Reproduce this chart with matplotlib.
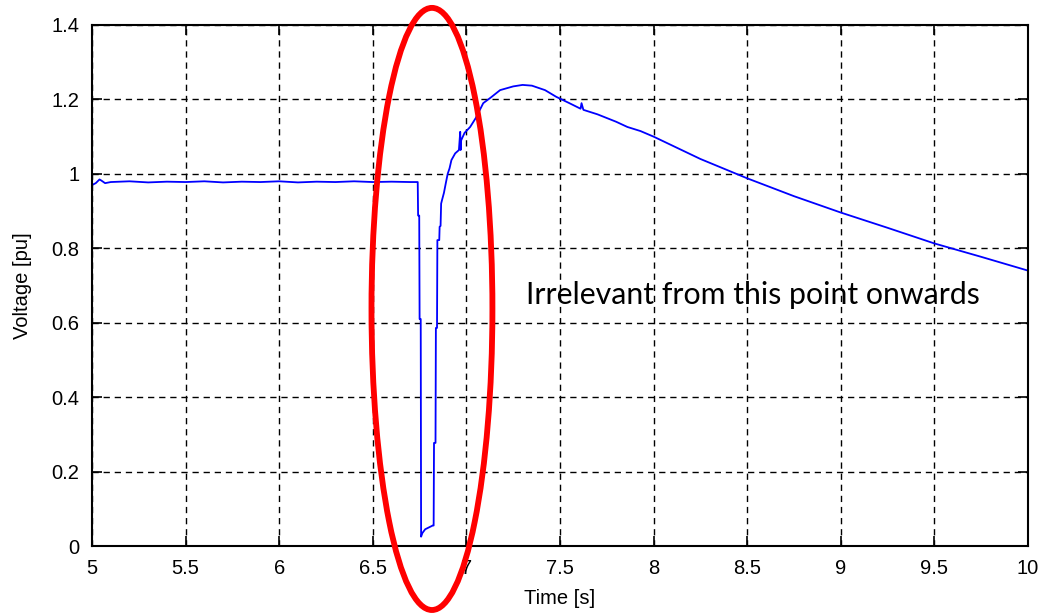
import matplotlib
matplotlib.use("Agg")
import matplotlib.pyplot as plt
from matplotlib.patches import Ellipse

# ---- data ----
time_s = [5.00, 5.02, 5.04, 5.05, 5.07, 5.10, 5.20, 5.30, 5.40, 5.50, 5.60, 5.70,
          5.80, 5.90, 6.00, 6.10, 6.20, 6.30, 6.40, 6.50, 6.60, 6.70, 6.740,
          6.742, 6.748, 6.750, 6.756, 6.758, 6.765, 6.780, 6.800, 6.820, 6.825,
          6.827, 6.835, 6.837, 6.843, 6.845, 6.855, 6.857, 6.862, 6.865, 6.870,
          6.880, 6.890, 6.900, 6.910, 6.920, 6.940, 6.960, 6.967, 6.969, 6.972,
          6.990, 7.020, 7.050, 7.090, 7.130, 7.180, 7.250, 7.300, 7.350, 7.420,
          7.480, 7.550, 7.610, 7.615, 7.625, 7.700, 7.800, 7.860, 7.930, 8.000,
          8.250, 8.500, 8.750, 9.000, 9.250, 9.500, 9.750, 10.00]
voltage_pu = [0.970, 0.975, 0.985, 0.982, 0.975, 0.978, 0.980, 0.977, 0.979, 0.978,
              0.980, 0.977, 0.979, 0.978, 0.980, 0.977, 0.979, 0.978, 0.980, 0.978,
              0.979, 0.978, 0.978,
              0.888, 0.888, 0.610, 0.610, 0.025, 0.035, 0.045, 0.050, 0.055, 0.055,
              0.277, 0.277, 0.586, 0.586, 0.822, 0.822, 0.858, 0.860, 0.920, 0.930,
              0.949, 0.975, 1.000, 1.015, 1.037, 1.055, 1.064, 1.113, 1.064, 1.090,
              1.110, 1.126, 1.150, 1.190, 1.205, 1.225, 1.235, 1.239, 1.237, 1.225,
              1.207, 1.190, 1.175, 1.190, 1.172, 1.160, 1.140, 1.126, 1.115, 1.100,
              1.040, 0.988, 0.940, 0.896, 0.855, 0.813, 0.777, 0.740]

x_ticks = [5, 5.5, 6, 6.5, 7, 7.5, 8, 8.5, 9, 9.5, 10]
x_tick_labels = ["5", "5.5", "6", "6.5", "7", "7.5", "8", "8.5", "9", "9.5", "10"]
y_ticks = [0, 0.2, 0.4, 0.6, 0.8, 1.0, 1.2, 1.4]
y_tick_labels = ["0", "0.2", "0.4", "0.6", "0.8", "1", "1.2", "1.4"]

annotation = "Irrelevant from this point onwards"

# ---- figure ----
plt.rcParams['font.family'] = ['Liberation Sans Narrow', 'Liberation Sans', 'DejaVu Sans']
fig = plt.figure(figsize=(10.41, 6.14), dpi=100)
ax = fig.add_axes([92 / 1041, 68 / 614, 936 / 1041, 521 / 614])

ax.plot(time_s, voltage_pu, color="#0000ff", linewidth=1.3)

ax.set_xlim(5, 10)
ax.set_ylim(0, 1.4)
ax.set_xticks(x_ticks)
ax.set_xticklabels(x_tick_labels)
ax.set_yticks(y_ticks)
ax.set_yticklabels(y_tick_labels)
ax.tick_params(direction="in", length=7, width=1.2, top=True, right=True,
               labelsize=14.5, pad=9)
ax.grid(True, color="black", linestyle=(0, (4.5, 3.5)), linewidth=1.0)
for s in ax.spines.values():
    s.set_linewidth(1.5)

ax.set_xlabel("Time [s]", fontsize=14.5, labelpad=8)
ax.set_ylabel("Voltage [pu]", fontsize=14.5, labelpad=14)

ax.text(0.464, 0.465, annotation, transform=ax.transAxes, fontsize=21.8,
        family=["Lato", "DejaVu Sans"], color="black", ha="left", va="baseline")

ell = Ellipse((6.816, 0.637), width=0.646, height=1.618, fill=False,
              edgecolor="red", linewidth=4.2, clip_on=False, zorder=5)
ax.add_patch(ell)

fig.savefig("out.png", dpi=100)
